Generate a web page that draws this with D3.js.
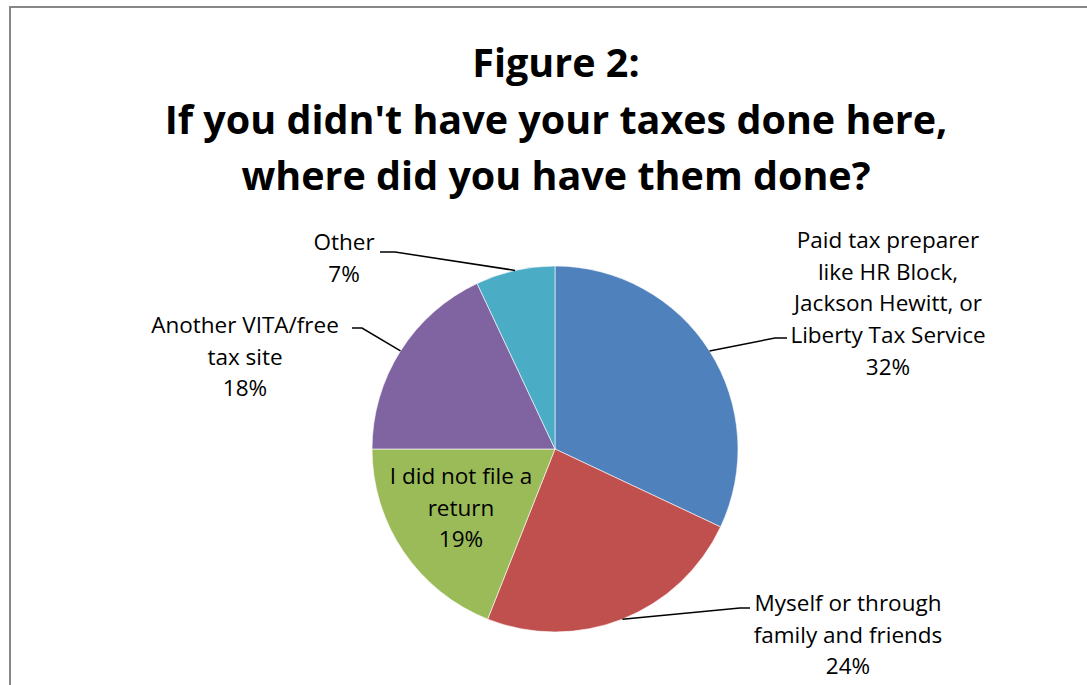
<!DOCTYPE html>
<html lang="en">
<head>
    <meta charset="UTF-8">
    <title>Figure 2</title>
    <style>
        body {
            margin: 0;
            background: #fff;
            font-family: "Open Sans", sans-serif;
        }
        svg text {
            fill: #000;
        }
    </style>
    <script src="https://d3js.org/d3.v7.min.js"></script>
</head>
<body>
    <svg width="1087" height="685"></svg>
    <script>
        // data
        const categories = [
            "Paid tax preparer like HR Block, Jackson Hewitt, or Liberty Tax Service",
            "Myself or through family and friends",
            "I did not file a return",
            "Another VITA/free tax site",
            "Other"
        ];
        const values = [32, 24, 19, 18, 7];
        const labelLines = [
            ["Paid tax preparer", "like HR Block,", "Jackson Hewitt, or", "Liberty Tax Service", "32%"],
            ["Myself or through", "family and friends", "24%"],
            ["I did not file a", "return", "19%"],
            ["Another VITA/free", "tax site", "18%"],
            ["Other", "7%"]
        ];
        const colors = ["#4F81BD", "#C0504D", "#9BBB59", "#8064A2", "#4BACC6"];
        const titleLines = ["Figure 2:", "If you didn't have your taxes done here,", "where did you have them done?"];

        // layout (label centre x, first baseline y, leader elbow)
        const labelPos = [
            {x: 888, y: 248, elbow: [[775, 338], [787, 338]]},
            {x: 848, y: 611, elbow: [[740, 608], [750, 608]]},
            {x: 461, y: 484, elbow: null},
            {x: 245, y: 333, elbow: [[362, 328], [352, 328]]},
            {x: 344, y: 250, elbow: [[395, 252], [380, 252]]}
        ];

        const width = 1087, height = 685;
        const cx = 555, cy = 449, r = 183;
        const lineH = 31.7;

        const svg = d3.select("svg");

        // chart border
        svg.append("rect")
            .attr("x", 10).attr("y", 7)
            .attr("width", width).attr("height", height)
            .attr("fill", "none")
            .attr("stroke", "#878787")
            .attr("stroke-width", 2);

        svg.append("g")
            .selectAll("text")
            .data(titleLines)
            .join("text")
            .attr("x", 556)
            .attr("y", (d, i) => 77 + i * 56.5)
            .attr("text-anchor", "middle")
            .attr("font-weight", "bold")
            .attr("font-size", 39.5)
            .text(d => d);

        const pie = d3.pie().sort(null).value(d => d);
        const arcs = pie(values);
        const arc = d3.arc().innerRadius(0).outerRadius(r);
        const edge = d3.arc().innerRadius(r).outerRadius(r);

        const g = svg.append("g").attr("transform", `translate(${cx},${cy})`);

        g.selectAll("path")
            .data(arcs)
            .join("path")
            .attr("d", arc)
            .attr("fill", (d, i) => colors[i])
            .attr("stroke", "#fff")
            .attr("stroke-width", 0.6);

        // leader lines
        arcs.forEach((d, i) => {
            const p = labelPos[i];
            if (!p.elbow) return;
            const s = edge.centroid(d);
            const pts = [[cx + s[0], cy + s[1]]].concat(p.elbow);
            svg.append("path")
                .attr("d", d3.line()(pts))
                .attr("fill", "none")
                .attr("stroke", "#000")
                .attr("stroke-width", 1.5);
        });

        // labels
        labelLines.forEach((lines, i) => {
            const p = labelPos[i];
            svg.append("g")
                .selectAll("text")
                .data(lines)
                .join("text")
                .attr("x", p.x)
                .attr("y", (d, j) => p.y + j * lineH)
                .attr("text-anchor", "middle")
                .attr("font-size", 22.5)
                .text(d => d);
        });
    </script>
</body>
</html>
